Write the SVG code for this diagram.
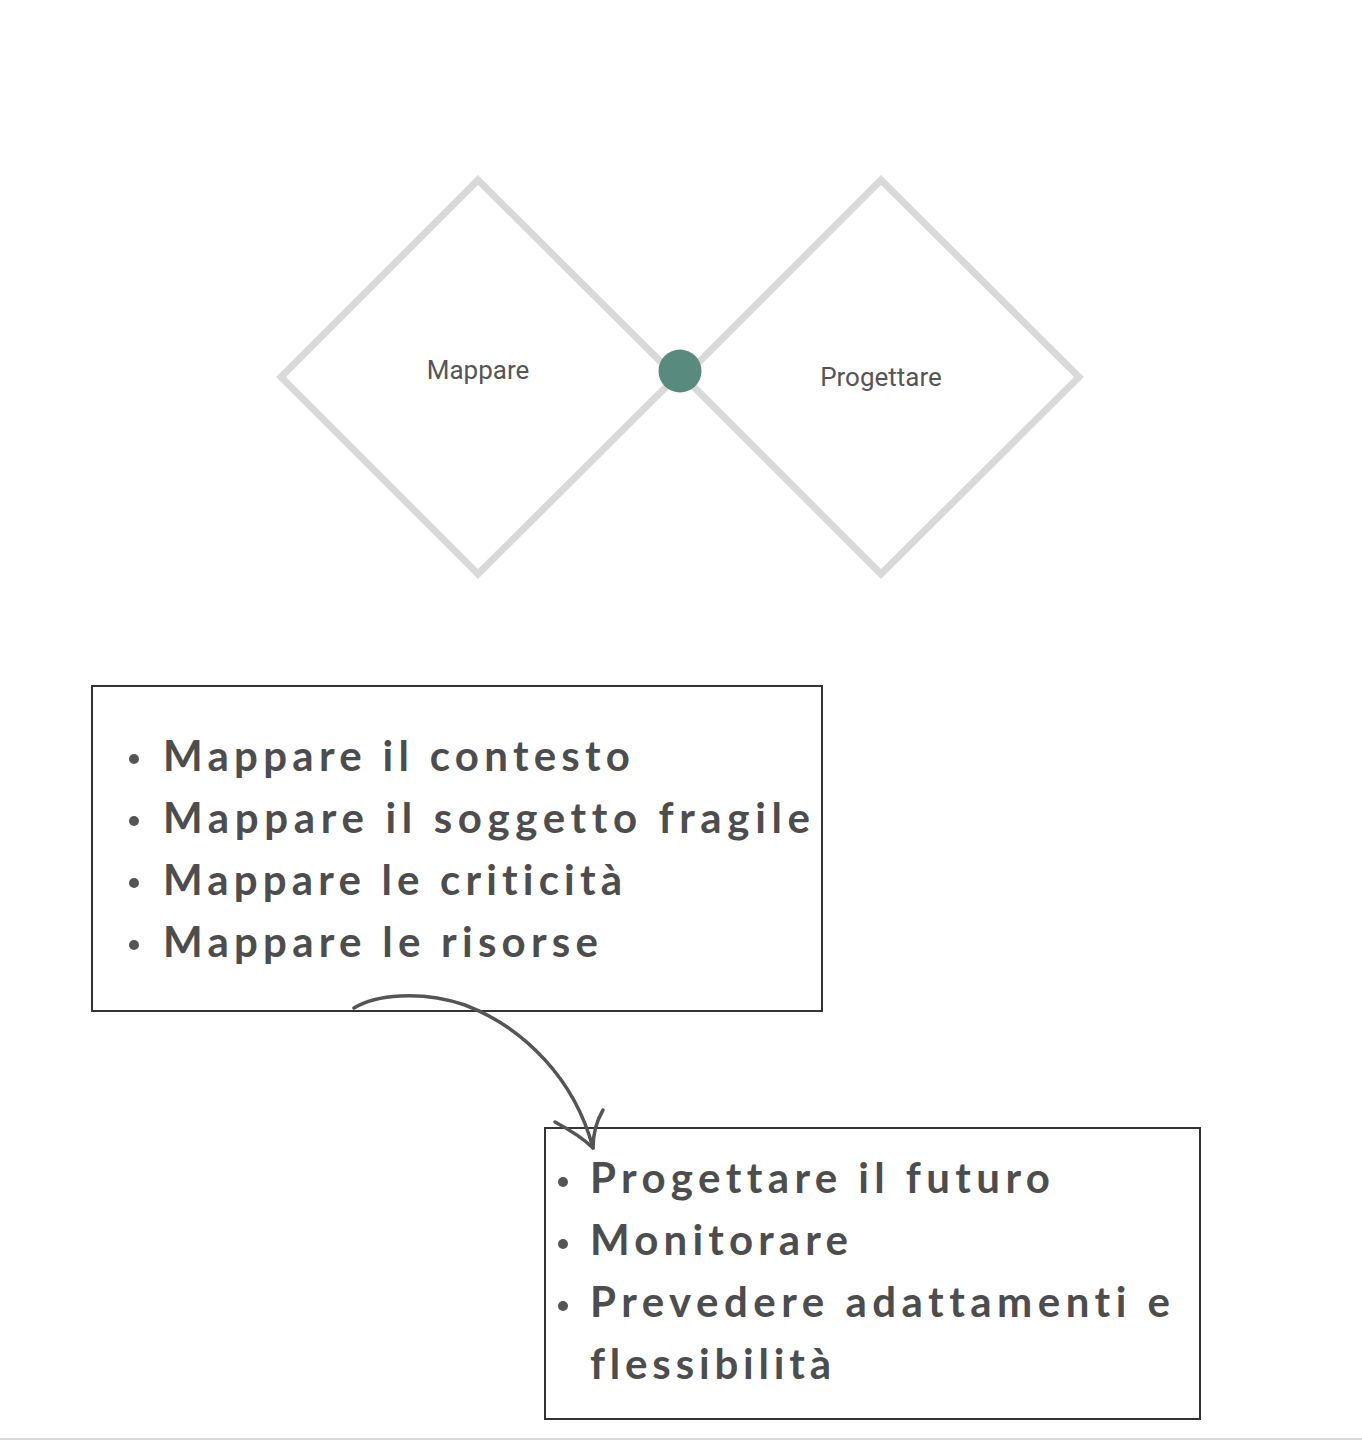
<svg xmlns="http://www.w3.org/2000/svg" width="1362" height="1440" viewBox="0 0 1362 1440">
<style>
.dia{fill:none;stroke:#d9d9d9;stroke-width:7}
.lbl{font-family:Roboto,"Liberation Sans",sans-serif;font-size:26px;fill:#555;text-anchor:middle}
.box{fill:none;stroke:#333;stroke-width:2}
.li{font-family:Lato,"Open Sans","Liberation Sans",sans-serif;font-size:42px;font-weight:bold;fill:#4d4d4d;font-variant-ligatures:none;font-feature-settings:"liga" 0,"clig" 0}
.bul{fill:#555}
.arr{fill:none;stroke:#555;stroke-width:3.5;stroke-linecap:round}
</style>
<rect width="1362" height="1440" fill="#fff"/>
<g id="node-mappare">
<polygon class="dia" points="478,180 676,377 478,574 281,377"/>
<text class="lbl" x="478" y="379">Mappare</text>
</g>
<g id="node-progettare">
<polygon class="dia" points="881,180 1079,377 881,574 684,377"/>
<text class="lbl" x="881" y="386">Progettare</text>
</g>
<g id="node-dot">
<circle cx="680" cy="371" r="21.5" fill="#588a7d"/>
</g>
<g id="node-list1">
<rect class="box" x="92" y="686" width="730" height="325"/>
<circle class="bul" cx="134" cy="759" r="5"/>
<circle class="bul" cx="134" cy="821" r="5"/>
<circle class="bul" cx="134" cy="883" r="5"/>
<circle class="bul" cx="134" cy="945" r="5"/>
<text class="li" x="163" y="771" textLength="467" lengthAdjust="spacing">Mappare il contesto</text>
<text class="li" x="163" y="833" textLength="647" lengthAdjust="spacing">Mappare il soggetto fragile</text>
<text class="li" x="163" y="895" textLength="459" lengthAdjust="spacing">Mappare le criticità</text>
<text class="li" x="163" y="957" textLength="435" lengthAdjust="spacing">Mappare le risorse</text>
</g>
<g id="node-list2">
<rect class="box" x="545" y="1128" width="655" height="291"/>
<circle class="bul" cx="563" cy="1182" r="5"/>
<circle class="bul" cx="563" cy="1244" r="5"/>
<circle class="bul" cx="563" cy="1306" r="5"/>
<text class="li" x="590" y="1193" textLength="460" lengthAdjust="spacing">Progettare il futuro</text>
<text class="li" x="590" y="1255" textLength="258" lengthAdjust="spacing">Monitorare</text>
<text class="li" x="590" y="1317" textLength="580" lengthAdjust="spacing">Prevedere adattamenti e</text>
<text class="li" x="590" y="1379" textLength="241" lengthAdjust="spacing">flessibilità</text>
</g>
<g id="connectors">
<path class="arr" d="M354,1008 C375,995 420,990 465,1005 C525,1028 575,1080 593,1148"/>
<path class="arr" d="M603,1110 C596,1122 593,1135 593,1148 M555,1122 C570,1130 583,1138 593,1148" stroke-width="2.5"/>
</g>
<rect x="0" y="1438" width="1362" height="2" fill="#d9d9d9"/>
</svg>
